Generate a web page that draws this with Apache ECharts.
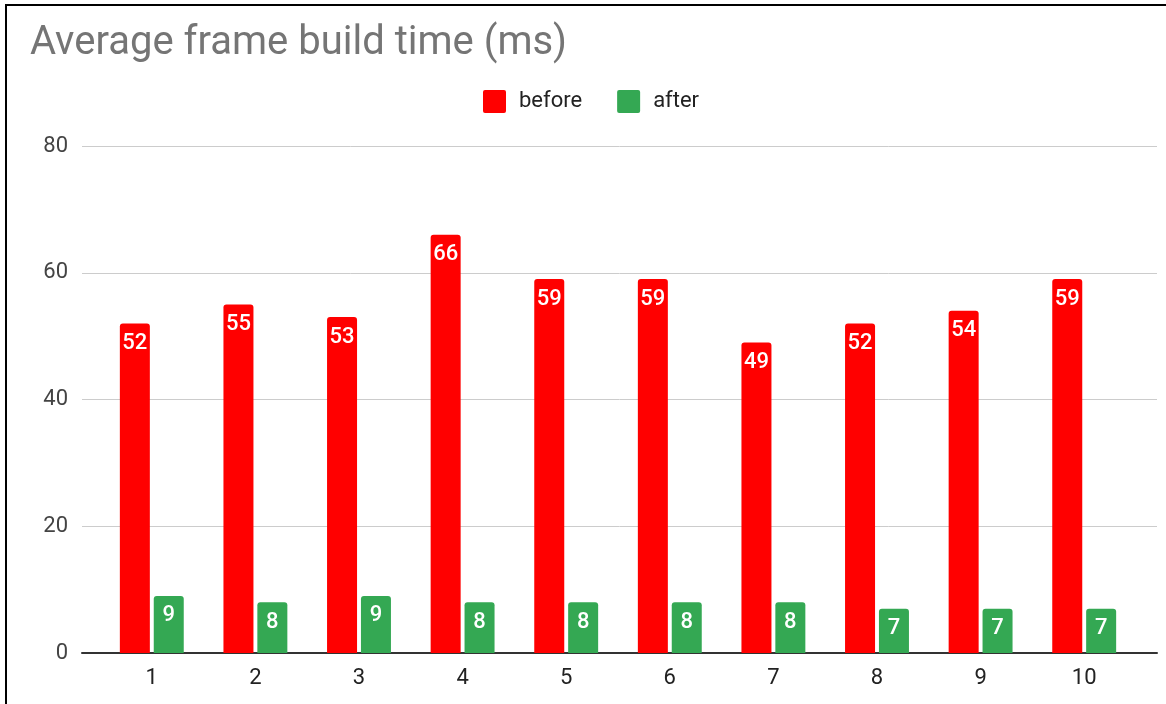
<!DOCTYPE html>
<html>
<head>
<meta charset="utf-8">
<title>Average frame build time (ms)</title>
<script src="https://cdn.jsdelivr.net/npm/echarts@6/dist/echarts.min.js"></script>
<style>
  html, body { margin: 0; padding: 0; background: #fff; }
  #frame {
    position: absolute; left: 5px; top: 4px; width: 1161px; height: 700px;
    border-left: 2px solid #000; border-top: 2px solid #000; box-sizing: border-box;
  }
  #chart { position: absolute; left: 0; top: 0; width: 1166px; height: 704px; }
</style>
</head>
<body>
<div id="chart"></div>
<div id="frame"></div>
<script>
// Run numbers on the x axis
const categories = ['1', '2', '3', '4', '5', '6', '7', '8', '9', '10'];
// Average frame build time per run, in milliseconds
const beforeValues = [52, 55, 53, 66, 59, 59, 49, 52, 54, 59];
const afterValues = [9, 8, 9, 8, 8, 8, 8, 7, 7, 7];
// Value axis range and step
const yMin = 0;
const yMax = 80;
const yStep = 20;

const FONT = 'Roboto, Arial, sans-serif';

const barLabel = {
  show: true,
  position: 'insideTop',
  distance: 9,
  color: '#fff',
  fontSize: 22,
  fontWeight: 500,
  fontFamily: FONT
};

const chart = echarts.init(document.getElementById('chart'), null, { renderer: 'canvas' });

chart.setOption({
  animation: false,
  backgroundColor: '#fff',
  title: {
    text: 'Average frame build time (ms)',
    left: 25,
    top: 19,
    textStyle: { color: '#757575', fontSize: 40, fontWeight: 'normal', fontFamily: FONT }
  },
  legend: {
    left: 478,
    top: 85,
    itemWidth: 23,
    itemHeight: 23,
    itemGap: 35,
    icon: 'path://M2,0 L21,0 Q23,0 23,2 L23,21 Q23,23 21,23 L2,23 Q0,23 0,21 L0,2 Q0,0 2,0 Z',
    textStyle: { color: '#222', fontSize: 22, fontFamily: FONT, padding: [0, 0, 0, 8] },
    data: ['before', 'after']
  },
  grid: [
    // frame for the value axis, gridlines and baseline
    { left: 82, right: 9, top: 146, bottom: 51 },
    // area holding the category bands
    { left: 100, right: 30, top: 146, bottom: 51 }
  ],
  xAxis: [
    {
      gridIndex: 0, type: 'value', min: 0, max: 1,
      axisLine: { show: true, onZero: false, lineStyle: { color: '#333', width: 2 } },
      axisTick: { show: false }, axisLabel: { show: false }, splitLine: { show: false }
    },
    {
      gridIndex: 1, type: 'category', data: categories,
      axisLine: { show: false }, axisTick: { show: false },
      axisLabel: { color: '#222', fontSize: 22, fontFamily: FONT, margin: 14 }
    }
  ],
  yAxis: [
    {
      gridIndex: 0, type: 'value', min: yMin, max: yMax, interval: yStep,
      axisLine: { show: false }, axisTick: { show: false },
      axisLabel: { color: '#444', fontSize: 22, fontFamily: FONT, margin: 14 },
      splitLine: { lineStyle: { color: '#cccccc', width: 1 } }
    },
    {
      gridIndex: 1, type: 'value', min: yMin, max: yMax, interval: yStep, show: false,
      splitLine: { show: false }
    }
  ],
  series: [
    {
      name: 'before', type: 'bar', xAxisIndex: 1, yAxisIndex: 1,
      data: beforeValues,
      barWidth: 30, barGap: '13%',
      itemStyle: { color: '#ff0000', borderRadius: [3, 3, 0, 0] },
      label: barLabel
    },
    {
      name: 'after', type: 'bar', xAxisIndex: 1, yAxisIndex: 1,
      data: afterValues,
      barWidth: 30, barGap: '13%',
      itemStyle: { color: '#34a853', borderRadius: [3, 3, 0, 0] },
      label: barLabel
    }
  ]
});
</script>
</body>
</html>
